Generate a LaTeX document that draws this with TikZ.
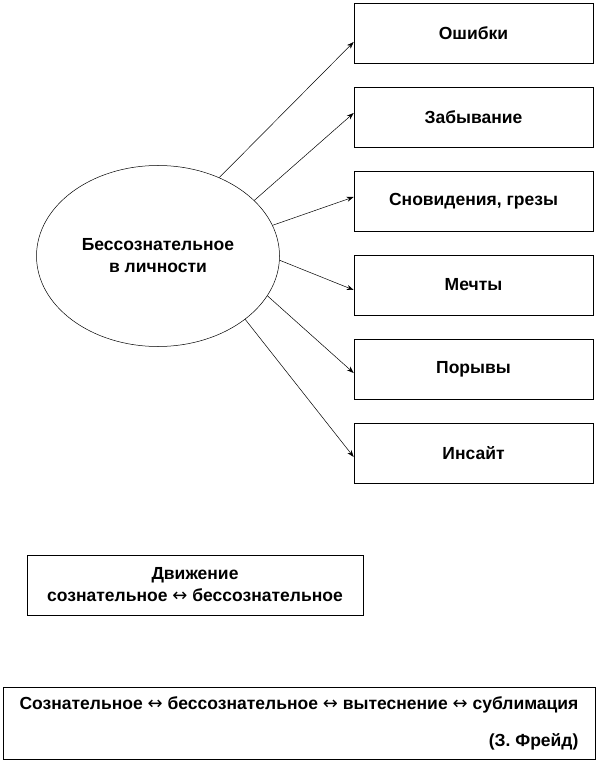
\documentclass[tikz,border=0pt]{standalone}
\usepackage{fontspec}
\setmainfont{Liberation Sans}
\newfontfamily\arrowfont{DejaVu Sans}
\newcommand{\lra}{{\arrowfont\mdseries\fontsize{18}{18}\selectfont ↔}}
\usetikzlibrary{shapes.geometric,positioning,arrows.meta}

\begin{document}
\begin{tikzpicture}[
    x=1pt, y=1pt,
    node distance=84pt,
    font=\fontsize{17.5}{22}\selectfont\bfseries,
    >={Stealth[length=7pt,width=5pt]},
    item/.style={rectangle, draw, line width=0.6pt, minimum width=239pt, minimum height=60pt, inner sep=0pt},
    core/.style={ellipse, draw, line width=0.5pt, minimum width=243pt, minimum height=181pt, inner sep=0pt, align=center},
    note/.style={rectangle, draw, line width=0.6pt, inner sep=0pt},
    arrow/.style={->, line width=0.5pt}
]
\useasboundingbox (0,0) rectangle (598,-762);

    % Central ellipse
    \node (unconscious) [core] at (158,-256) {Бессознательное \\ в личности};

    % Manifestations
    \node (errors) [item] at (473.5,-33) {Ошибки};
    \node (forgetting) [item, below of=errors] {Забывание};
    \node (dreams) [item, below of=forgetting] {Сновидения, грезы};
    \node (wishes) [item, below of=dreams] {Мечты};
    \node (impulses) [item, below of=wishes] {Порывы};
    \node (insight) [item, below of=impulses] {Инсайт};

    % Arrows from the ellipse
    \draw [arrow] (unconscious.52) -> ([yshift=-9pt]errors.west);
    \draw [arrow] (unconscious.30) -> ([yshift=4pt]forgetting.west);
    \draw [arrow] (unconscious.15) -> ([yshift=4pt]dreams.west);
    \draw [arrow] (unconscious.-2) -> ([yshift=-5pt]wishes.west);
    \draw [arrow] (unconscious.-20) -> ([yshift=-4pt]impulses.west);
    \draw [arrow] (unconscious.-36) -> ([yshift=-4pt]insight.west);

    % Notes
    \node (motion) [note, align=center, minimum width=336pt, minimum height=60pt] at (195,-585) {Движение \\ сознательное \lra{} бессознательное};
    \node (freud) [note, align=right, minimum width=592pt, minimum height=72pt] at (299,-723) {Сознательное \lra{} бессознательное \lra{} вытеснение \lra{} сублимация \\[15pt] (З. Фрейд)};

\end{tikzpicture}
\end{document}
